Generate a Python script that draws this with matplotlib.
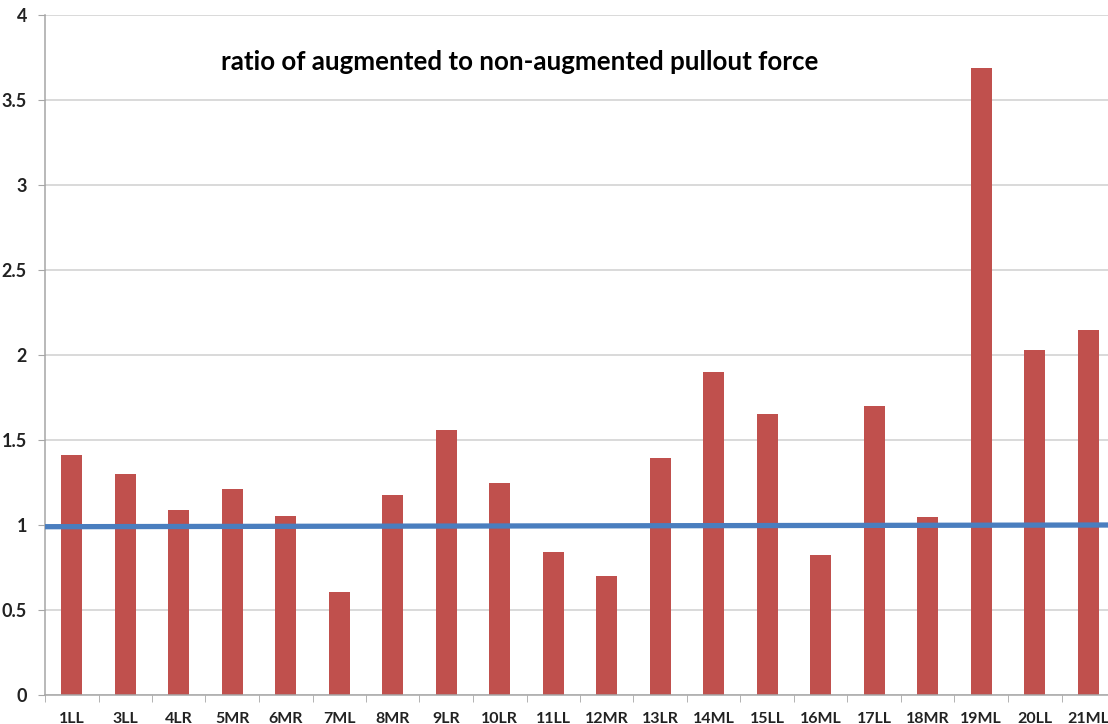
import numpy as np
import matplotlib.pyplot as plt
from matplotlib.ticker import FuncFormatter, MultipleLocator

# sample labels and ratio values
samples = ['1LL', '3LL', '4LR', '5MR', '6MR', '7ML', '8MR', '9LR', '10LR', '11LL',
           '12MR', '13LR', '14ML', '15LL', '16ML', '17LL', '18MR', '19ML', '20LL', '21ML']
ratios = [1.41, 1.30, 1.09, 1.21, 1.055, 0.605, 1.175, 1.557, 1.246, 0.842,
          0.70, 1.396, 1.90, 1.653, 0.825, 1.70, 1.045, 3.687, 2.03, 2.148]
# reference line (ratio = 1), ends of the line
ref_x = [-0.5, 19.5]
ref_y = [0.99, 1.0]

plt.rcParams['font.family'] = ['Lato', 'DejaVu Sans']

fig = plt.figure(figsize=(11.08, 7.24), dpi=100)
ax = fig.add_axes([45/1108, 1-695/724, 1070/1108, 680/724])

x = np.arange(len(samples))
ax.bar(x, ratios, width=0.4, color='#C0504D', zorder=2)
ax.plot(ref_x, ref_y, color='#4A7EBF', lw=3.8, zorder=3, solid_capstyle='butt')

ax.set_xlim(-0.5, len(samples)-0.5)
ax.set_ylim(0, 4)
ax.yaxis.set_major_locator(MultipleLocator(0.5))
ax.yaxis.set_major_formatter(FuncFormatter(lambda v, p: '%g' % v))
ax.grid(axis='y', color='#CFCFCF', lw=1.1, zorder=0)
ax.set_axisbelow(True)

ax.set_xticks(x)
ax.set_xticklabels(samples)
ax.set_xticks(np.arange(-0.5, len(samples), 1), minor=True)
ax.tick_params(axis='x', which='major', length=0, pad=12, labelsize=11.5)
ax.tick_params(axis='x', which='minor', length=5, color='#A6A6A6')
ax.tick_params(axis='y', length=5, color='#A6A6A6', labelsize=13, pad=8)
for lab in ax.get_xticklabels() + ax.get_yticklabels():
    lab.set_fontweight('bold')
    lab.set_color('#222222')

for s in ['top', 'right']:
    ax.spines[s].set_visible(False)
for s in ['left', 'bottom']:
    ax.spines[s].set_color('#A6A6A6')
    ax.spines[s].set_linewidth(1.1)

fig.text(520/1108, 1-62/724, 'ratio of augmented to non-augmented pullout force',
         ha='center', va='center', fontsize=18.6, fontweight='bold', color='black')

plt.savefig('out.png')
